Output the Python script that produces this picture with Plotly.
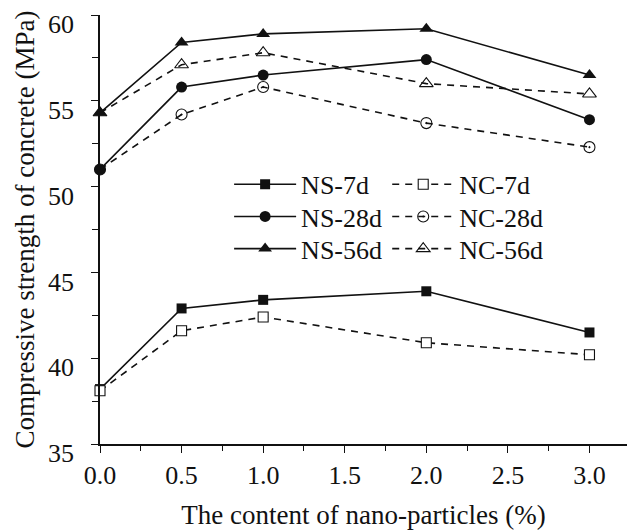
import plotly.graph_objects as go

# Nano-particle dosage (%) and compressive strength (MPa)
content = [0.0, 0.5, 1.0, 2.0, 3.0]

ns_7d = [38.2, 42.9, 43.4, 43.9, 41.5]
nc_7d = [38.1, 41.6, 42.4, 40.9, 40.2]
ns_28d = [51.0, 55.8, 56.5, 57.4, 53.9]
nc_28d = [51.0, 54.2, 55.8, 53.7, 52.3]
ns_56d = [54.3, 58.4, 58.9, 59.2, 56.5]
nc_56d = [54.3, 57.1, 57.8, 56.0, 55.4]

FONT = "Liberation Serif"
BLACK = "#111111"
DASH = "7px,6px"

# legend grid: one legend box per entry (column x, row y in paper units)
COL_X = {"NS": 0.245, "NC": 0.545}
ROW_Y = {"7d": 0.66, "28d": 0.585, "56d": 0.51}
legend_ids = {}

fig = go.Figure()


def legend_for(name):
    lid = "legend" if not legend_ids else f"legend{len(legend_ids) + 1}"
    legend_ids[name] = lid
    return lid


def add_ns(name, y, symbol, size):
    fig.add_trace(go.Scatter(
        x=content, y=y, name=name, mode="lines+markers",
        line=dict(color=BLACK, width=1.6),
        marker=dict(symbol=symbol, size=size, color=BLACK),
        cliponaxis=False, legend=legend_for(name),
    ))


def add_nc(name, y, symbol, size, fill=BLACK):
    fig.add_trace(go.Scatter(
        x=content, y=y, name=name, mode="lines+markers",
        line=dict(color=BLACK, width=1.6, dash=DASH),
        marker=dict(symbol=symbol, size=size, color=fill,
                    line=dict(color=BLACK, width=1.1)),
        cliponaxis=False, legend=legend_for(name),
    ))


add_ns("NS-7d", ns_7d, "square", 10)
add_nc("NC-7d", nc_7d, "square", 10, fill="white")
add_nc("NC-28d", nc_28d, "circle-open-dot", 11)
add_ns("NS-28d", ns_28d, "circle", 11)
add_nc("NC-56d", nc_56d, "triangle-up-open", 12)
add_ns("NS-56d", ns_56d, "triangle-up", 12)

legend_style = dict(
    orientation="v", xanchor="left", yanchor="top",
    bgcolor="rgba(0,0,0,0)", borderwidth=0,
    font=dict(family=FONT, size=26, color=BLACK),
    itemwidth=62,
)

legends = {}
for name, lid in legend_ids.items():
    group, age = name.split("-")
    legends[lid] = dict(x=COL_X[group], y=ROW_Y[age], **legend_style)

fig.update_layout(
    width=627, height=530,
    margin=dict(l=100, r=0, t=15, b=86),
    paper_bgcolor="white", plot_bgcolor="white",
    font=dict(family=FONT, size=26, color=BLACK),
    showlegend=True,
    **legends,
    xaxis=dict(
        range=[0, 3.23], tickvals=[0, 0.5, 1.0, 1.5, 2.0, 2.5, 3.0],
        ticktext=["0.0", "0.5", "1.0", "1.5", "2.0", "2.5", "3.0"],
        showline=True, linecolor=BLACK, linewidth=1.6,
        ticks="outside", ticklen=7, tickwidth=1.4, tickcolor=BLACK,
        minor=dict(dtick=0.25, ticks="outside", ticklen=5, tickwidth=1.2,
                   tickcolor=BLACK, showgrid=False),
        showgrid=False, zeroline=False,
        tickfont=dict(family=FONT, size=26, color=BLACK),
        title=dict(text="The content of nano-particles (%)",
                   font=dict(family=FONT, size=27, color=BLACK), standoff=16),
    ),
    yaxis=dict(
        range=[35, 60], tickvals=[35, 40, 45, 50, 55, 60],
        showline=True, linecolor=BLACK, linewidth=1.6,
        ticks="outside", ticklen=7, tickwidth=1.4, tickcolor=BLACK,
        minor=dict(dtick=2.5, ticks="outside", ticklen=6, tickwidth=1.2,
                   tickcolor=BLACK, showgrid=False),
        showgrid=False, zeroline=False,
        tickfont=dict(family=FONT, size=26, color=BLACK),
        ticklabelstandoff=12, ticklabelshift=9, ticklabeloverflow="allow",
        title=dict(text="Compressive strength of concrete (MPa)",
                   font=dict(family=FONT, size=27, color=BLACK), standoff=6),
    ),
)

fig.write_html("out.html")
